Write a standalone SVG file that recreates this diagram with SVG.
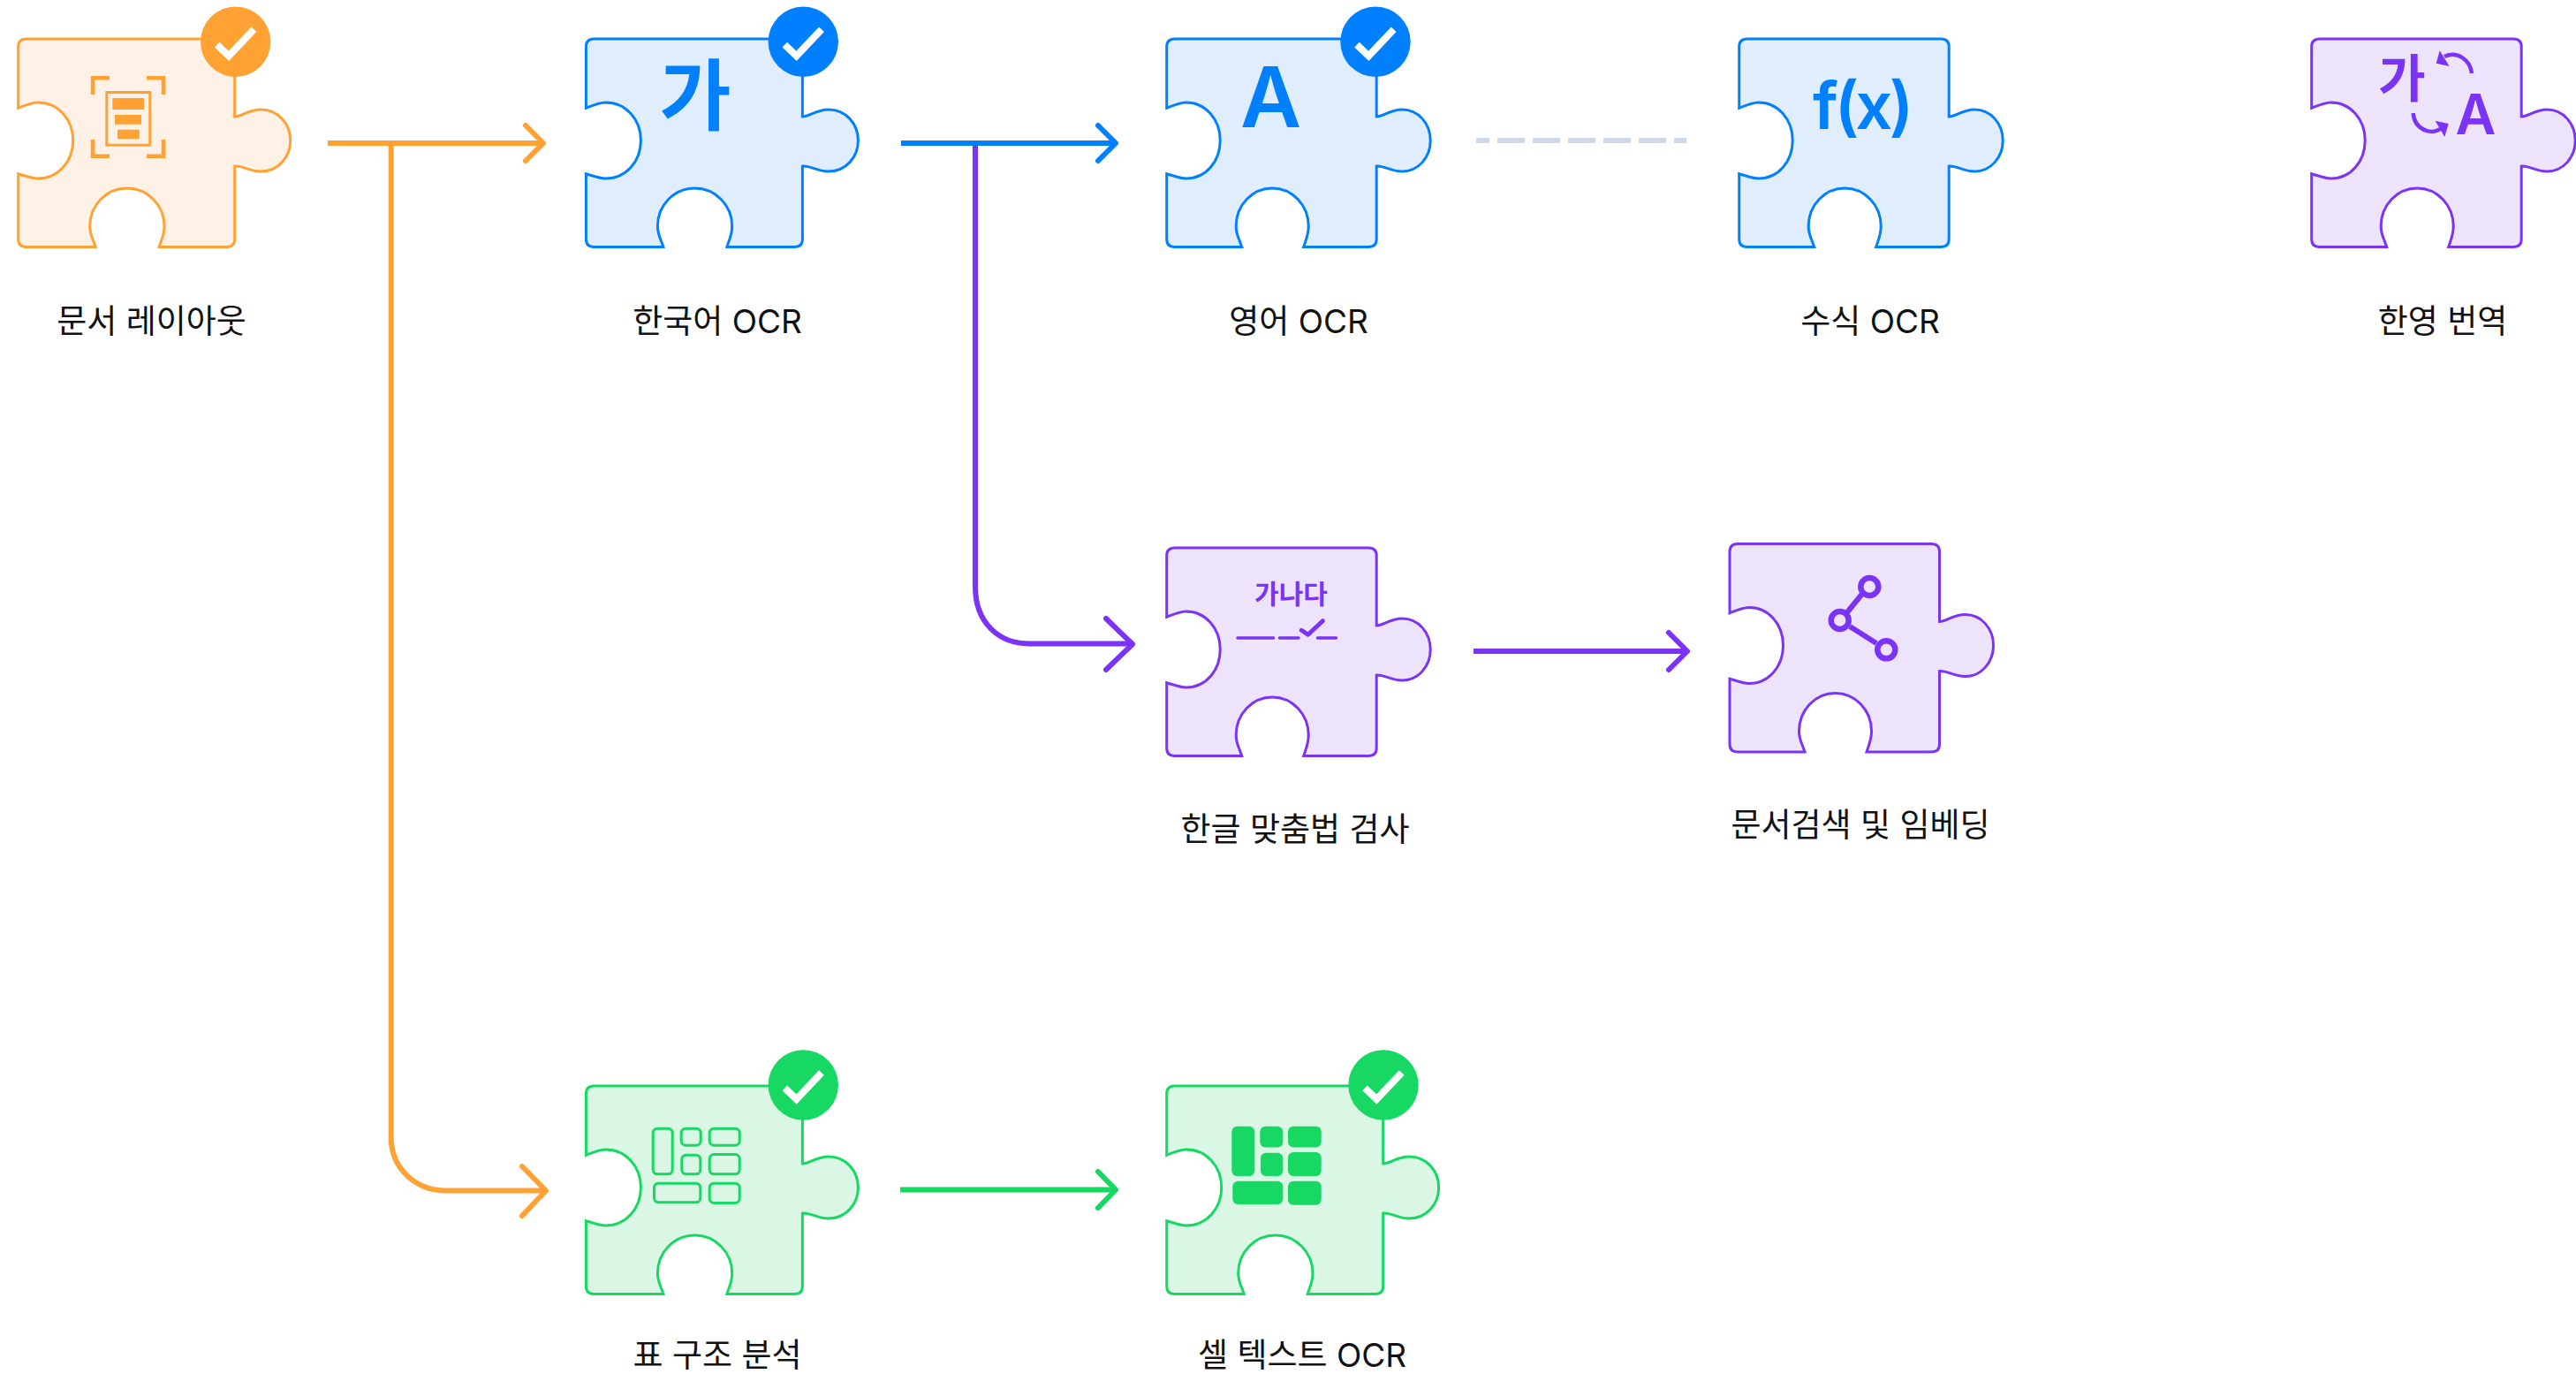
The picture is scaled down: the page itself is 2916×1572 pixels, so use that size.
<svg xmlns="http://www.w3.org/2000/svg" width="2916" height="1572" viewBox="0 0 2916 1572">
<style>
text{font-family:"Inter","Noto Sans CJK KR",sans-serif}
.lbl{font-size:37px;fill:#111;text-anchor:middle}
.piece{stroke-width:3}
.or{fill:#FFF1E5;stroke:#FFA133}
.bl{fill:#DFEDFD;stroke:#0080FF}
.pu{fill:#EDE4FC;stroke:#7B33F5}
.gr{fill:#DAF7E6;stroke:#17D862}
.badge-check{fill:none;stroke:#fff;stroke-width:8}
.conn{fill:none;stroke-width:6}
.head{fill:none;stroke-width:6;stroke-linecap:round;stroke-linejoin:round}
.ico{font-weight:600;text-anchor:middle}
</style>
<defs>
<path id="puzzle" d="M9,0H236Q245,0 245,9V88C252.500,88 261,80 274.500,80C294,80 308,96 308,115C308,134 294,150 274.500,150C261,150 253.500,143 245,144V226.500Q245,235.500 236,235.500H159.500C162.500,226 165.300,222 165.300,212C165.300,188 146,169 123,169C100,169 81,188 81,212C81,222 84.500,226 87.500,235.500H9Q0,235.500 0,226.500V152.700C8,155 15,158 22,158C45,158 62,139 62,115C62,91 45,72 22,72C15,72 8,75 0,78.300V9Q0,0 9,0Z"/>
<path id="puzzle-narrow" d="M9,0H228.500Q237.500,0 237.500,9V88C245,88 253,80 266.500,80C285,80 298.500,96 298.500,115C298.500,134 285,150 266.500,150C253,150 246,143 237.500,144V226.500Q237.500,235.500 228.500,235.500H155C158,226 160.500,222 160.500,212C160.500,188 142,169 119.500,169C97,169 78.500,188 78.500,212C78.500,222 82,226 85,235.500H9Q0,235.500 0,226.500V152.700C8,155 15,158 22,158C44,158 60.500,139 60.500,115C60.500,91 44,72 22,72C15,72 8,75 0,78.300V9Q0,0 9,0Z"/>
<g id="check"><polyline class="badge-check" points="-21,3.300 -7.700,16 20.700,-14"/></g>
</defs>
<g id="connectors">
<g stroke="#FFA133">
<path class="conn" d="M371,162H614"/><path class="conn" d="M442.700,162V1287C442.700,1322 470,1347.500 505,1347.500H617"/>
<path class="head" d="M595,142L615,162L595,182"/><path class="head" d="M591,1320L618,1347.500L591,1376"/>
</g>
<g stroke="#7B33F5">
<path class="conn" d="M1104,162V664C1104,704 1130,728.500 1165,728.500H1280"/>
<path class="head" d="M1252,700L1282,729L1252,758"/>
<path class="conn" d="M1668,737H1909"/><path class="head" d="M1889,716L1910,737L1889,758"/>
</g>
<g stroke="#0080FF"><path class="conn" d="M1020,162H1261"/><path class="head" d="M1243,142L1263,162L1243,182"/></g>
<path class="conn" stroke="#CFD8E8" stroke-dasharray="15 9 31 9 31 9 31 9 31 9 31 9 15" d="M1671,159H1909"/>
<g stroke="#17D862"><path class="conn" d="M1019,1346.500H1261"/><path class="head" d="M1243,1326L1263,1346.500L1243,1367"/></g>
</g>

<g id="node-layout">
<use href="#puzzle" x="20.700" y="44" class="piece or"/>
<g fill="none" stroke="#FFA133" stroke-width="4.500"><path d="M124,88.300H105V107M166,88.300H185V107M124,176.700H105V158M166,176.700H185V158"/><rect x="120.800" y="104.500" width="49" height="59.700" stroke-width="3"/></g>
<g fill="#FFA133"><rect x="127.300" y="111" width="35.700" height="13"/><rect x="130" y="130" width="30" height="10.700"/><rect x="133" y="146.700" width="24.700" height="10.600"/></g>
<circle cx="266.700" cy="47.300" r="39.700" fill="#FFA133"/><use href="#check" x="266.700" y="47.300"/>
<text class="lbl" x="171.500" y="376.500">문서 레이아웃</text>
</g>

<g id="node-korean">
<use href="#puzzle" x="663.400" y="44" class="piece bl"/>
<text class="ico" x="787" y="140" font-size="88" fill="#0080FF">가</text>
<circle cx="909.300" cy="47.300" r="39.700" fill="#0080FF"/><use href="#check" x="909.300" y="47.300"/>
<text class="lbl" x="812" y="376.500">한국어 OCR</text>
</g>

<g id="node-english">
<use href="#puzzle-narrow" x="1320.700" y="44" class="piece bl"/>
<text class="ico" x="1438.500" y="144" font-size="95" fill="#0080FF">A</text>
<circle cx="1557" cy="47.300" r="39.700" fill="#0080FF"/><use href="#check" x="1557" y="47.300"/>
<text class="lbl" x="1470" y="376.500">영어 OCR</text>
</g>

<g id="node-formula">
<use href="#puzzle-narrow" x="1968.700" y="44" class="piece bl"/>
<text class="ico" x="2107" y="146" font-size="74" letter-spacing="-4" fill="#0080FF">f(x)</text>
<text class="lbl" x="2117" y="376.500">수식 OCR</text>
</g>

<g id="node-translate">
<use href="#puzzle-narrow" x="2616.700" y="44" class="piece pu"/>
<text class="ico" x="2719" y="110" font-size="58" fill="#7B33F5">가</text>
<text class="ico" x="2802.500" y="152" font-size="63" fill="#7B33F5">A</text>
<g fill="none" stroke="#7B33F5" stroke-width="4.500"><path d="M2798,83C2796,68 2782,57 2767,64"/><path d="M2731.700,128C2733,146 2752,155 2765,144"/></g>
<g fill="#7B33F5"><path d="M2761.700,57.300L2757.700,71.700L2772.700,75Z"/><path d="M2756.700,136.700L2771.700,140L2767.300,155Z"/></g>
<text class="lbl" x="2765" y="376.500">한영 번역</text>
</g>

<g id="node-spell">
<use href="#puzzle-narrow" x="1320.700" y="620" class="piece pu"/>
<text class="ico" x="1461.500" y="683" font-size="30" fill="#7B33F5" style="font-weight:700">가나다</text>
<g fill="none" stroke="#7B33F5" stroke-linecap="round" stroke-linejoin="round"><path stroke-width="3.500" d="M1401,722H1441.500M1448.500,722H1470M1491.500,722H1512.500"/><path stroke-width="5" d="M1473.300,713.300L1480.700,718.300L1497.300,702.700"/></g>
<text class="lbl" x="1466" y="952">한글 맞춤법 검사</text>
</g>

<g id="node-search">
<use href="#puzzle-narrow" x="1958" y="615.500" class="piece pu"/>
<g fill="none" stroke="#7B33F5"><path stroke-width="6" d="M2108,672L2091,693M2094,709L2124,728"/><g stroke-width="6.500"><circle cx="2116.300" cy="664" r="10"/><circle cx="2082.700" cy="702" r="10"/><circle cx="2135.300" cy="735.300" r="10"/></g></g>
<text class="lbl" x="2106" y="947">문서검색 및 임베딩</text>
</g>

<g id="node-table">
<use href="#puzzle" x="663.400" y="1229" class="piece gr"/>
<g fill="none" stroke="#17D862" stroke-width="3">
<rect x="739.200" y="1277.200" width="22" height="51.600" rx="5"/><rect x="771.200" y="1277.200" width="22" height="19" rx="5"/><rect x="803.200" y="1277.200" width="34" height="19" rx="5"/>
<rect x="771.800" y="1307.200" width="21" height="21.600" rx="5"/><rect x="803.200" y="1306.500" width="34" height="22.300" rx="5"/>
<rect x="740.500" y="1339.200" width="52.300" height="21.600" rx="5"/><rect x="803.200" y="1339.200" width="34" height="22.300" rx="5"/>
</g>
<circle cx="909.300" cy="1228" r="39.700" fill="#17D862"/><use href="#check" x="909.300" y="1228"/>
<text class="lbl" x="812" y="1547">표 구조 분석</text>
</g>

<g id="node-cell">
<use href="#puzzle" x="1320.700" y="1229" class="piece gr"/>
<g fill="#17D862">
<rect x="1394.300" y="1274.700" width="26" height="56.300" rx="6"/><rect x="1426.300" y="1274.700" width="26" height="23.700" rx="6"/><rect x="1458" y="1274.700" width="37.700" height="23.700" rx="6"/>
<rect x="1427" y="1304.700" width="25.300" height="26.300" rx="6"/><rect x="1458" y="1304" width="37.700" height="27" rx="6"/>
<rect x="1395.300" y="1336.700" width="57" height="26.300" rx="6"/><rect x="1458" y="1336.700" width="37.700" height="27" rx="6"/>
</g>
<circle cx="1566" cy="1228" r="39.700" fill="#17D862"/><use href="#check" x="1566" y="1228"/>
<text class="lbl" x="1474" y="1547">셀 텍스트 OCR</text>
</g>
</svg>
